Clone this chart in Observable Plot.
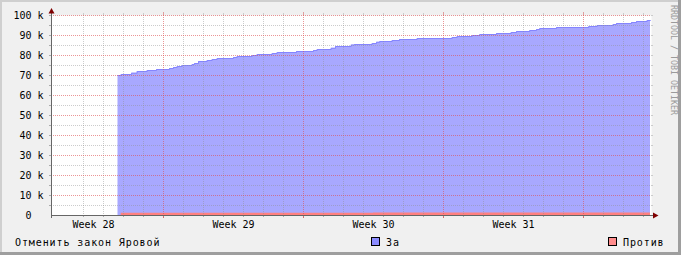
<!DOCTYPE html>
<html><head><meta charset="utf-8">
<script src="https://cdn.jsdelivr.net/npm/d3@7"></script>
<script src="https://cdn.jsdelivr.net/npm/@observablehq/plot@0.6"></script>
<style>body{margin:0;background:#f0f0f0}</style>
</head><body><div id="chart"></div>
<script>
const forTimes = [
"2016-07-15T17:24","2016-07-15T21:15","2016-07-16T09:36","2016-07-16T16:26","2016-07-17T04:26","2016-07-17T15:36",
"2016-07-18T07:12","2016-07-18T12:00","2016-07-18T16:26","2016-07-18T22:26","2016-07-19T10:26","2016-07-19T13:12","2016-07-19T18:00",
"2016-07-20T04:26","2016-07-20T10:26","2016-07-20T16:26","2016-07-21T12:00","2016-07-21T16:26","2016-07-22T10:26","2016-07-22T16:26",
"2016-07-23T10:26","2016-07-23T16:26","2016-07-24T15:36","2016-07-25T12:00","2016-07-25T16:26","2016-07-26T09:14","2016-07-26T14:24",
"2016-07-27T09:14","2016-07-27T13:12","2016-07-28T10:26","2016-07-28T15:36","2016-07-28T19:34","2016-07-29T10:26","2016-07-29T19:12",
"2016-07-30T16:26","2016-08-01T10:26","2016-08-01T16:26","2016-08-02T10:26","2016-08-02T19:34","2016-08-03T15:36","2016-08-04T09:14",
"2016-08-04T15:36","2016-08-05T07:34","2016-08-05T15:36","2016-08-05T19:34","2016-08-06T15:36","2016-08-08T06:22","2016-08-08T16:26",
"2016-08-09T11:38","2016-08-09T15:36","2016-08-10T09:36","2016-08-10T15:36","2016-08-11T04:26","2016-08-11T08:24"];
const forValues = [70000,70500,71150,72000,72500,73000,
73500,74000,74500,75000,75500,76000,77000,
77500,78000,78500,79000,79500,80000,80500,
81000,81500,82000,82500,83000,83600,84500,
85200,85500,86000,86600,87000,87500,88000,
88500,89000,89500,90000,90500,91000,91500,
92000,92500,93000,93500,94000,94500,95000,
95500,96000,96500,97000,97500,97500];
const againstTimes = ["2016-07-15T21:15","2016-07-28T12:00","2016-08-11T08:24"];
const againstValues = [1100,1200,1300];

const yTicks = [0,10000,20000,30000,40000,50000,60000,70000,80000,90000,100000];
const yLabels = ["0\u00a0\u00a0","10 k","20 k","30 k","40 k","50 k","60 k","70 k","80 k","90 k","100 k"];
const weekTicks = ["2016-07-14T12:00","2016-07-21T12:00","2016-07-28T12:00","2016-08-04T12:00"];
const weekLabels = ["Week 28","Week 29","Week 30","Week 31"];
const seriesNames = ["За","Против"];
const title = "Отменить закон Яровой";
const watermark = "RRDTOOL / TOBI OETIKER";

const utc = s => new Date(s + "Z");
const forData = forTimes.map((t,i)=>({t:utc(t), v:forValues[i]}));
const againstData = againstTimes.map((t,i)=>({t:utc(t), v:againstValues[i]}));
const x0 = utc("2016-07-12T09:36"), x1 = utc("2016-08-11T09:36");
const dayLines = d3.utcDay.range(x0, x1).slice(1).filter(d => d.getUTCDay() !== 1);
const weekLines = d3.utcMonday.range(x0, x1);
const minorY = d3.range(5000, 100000, 10000);
const majorY = d3.range(10000, 100001, 10000);
const FONT = "'DejaVu Sans Mono', monospace";
const gridMinor = {stroke:"#8f8f8f", strokeOpacity:0.46, strokeDasharray:"1,1"};
const gridMajor = {stroke:"#de5050", strokeOpacity:0.6, strokeDasharray:"1,1"};

const plot = Plot.plot({
  width: 681, height: 255,
  marginLeft: 51, marginRight: 30, marginTop: 15, marginBottom: 40,
  style: {background:"#f0f0f0", fontFamily: FONT, fontSize:"10px", color:"#000", overflow:"visible"},
  x: {type:"utc", domain:[x0, x1], axis:null},
  y: {domain:[0, 100000], axis:null},
  marks: [
    Plot.frame({fill:"#ffffff", stroke:null}),
    Plot.areaY(forData, {x:"t", y:"v", curve:"step-after", fill:"#a8a8ff"}),
    Plot.lineY(forData, {x:"t", y:"v", curve:"step-after", stroke:"#8585ff", strokeWidth:1}),
    Plot.areaY(againstData, {x:"t", y:"v", curve:"step-after", fill:"#ff8080"}),
    Plot.ruleX(dayLines, {...gridMinor}),
    Plot.ruleY(minorY, {...gridMinor}),
    Plot.ruleX(weekLines, {...gridMajor}),
    Plot.ruleY(majorY, {...gridMajor}),
    Plot.text(yTicks, {y: d=>d, text: (d,i)=>yLabels[i], frameAnchor:"left", textAnchor:"end", dx:-8, fontSize:10, fill:"#000"}),
    Plot.text(weekTicks, {x: d=>utc(d), text: (d,i)=>weekLabels[i], frameAnchor:"bottom", lineAnchor:"top", dy:5, fontSize:10, fill:"#000"})
  ]
});
document.getElementById("chart").append(plot);

const sx = plot.scale("x"), sy = plot.scale("y");
const svg = d3.select(plot);
const L = sx.apply(x0), R = sx.apply(x1), B = sy.apply(0), T = sy.apply(100000);
const g = svg.append("g");
// small ticks
dayLines.forEach(d => { const px = Math.round(sx.apply(d)) + 0.5;
  g.append("line").attr("x1",px).attr("x2",px).attr("y1",B).attr("y2",B+2).attr("stroke","#aaa");
  g.append("line").attr("x1",px).attr("x2",px).attr("y1",T-2).attr("y2",T).attr("stroke","#ccc"); });
weekLines.forEach(d => { const px = Math.round(sx.apply(d)) + 0.5;
  g.append("line").attr("x1",px).attr("x2",px).attr("y1",B).attr("y2",B+3).attr("stroke","#d07070");
  g.append("line").attr("x1",px).attr("x2",px).attr("y1",T-3).attr("y2",T).attr("stroke","#e0a0a0"); });
minorY.concat(majorY).forEach(v => { const py = Math.round(sy.apply(v)) + 0.5;
  g.append("line").attr("x1",L-2).attr("x2",L).attr("y1",py).attr("y2",py).attr("stroke","#aaa");
  g.append("line").attr("x1",R).attr("x2",R+2).attr("y1",py).attr("y2",py).attr("stroke","#ccc"); });
// axes
g.append("line").attr("x1",L).attr("x2",R+3).attr("y1",B+0.5).attr("y2",B+0.5).attr("stroke","#666");
g.append("line").attr("x1",L+0.5).attr("x2",L+0.5).attr("y1",B+3).attr("y2",T-2).attr("stroke","#666");
g.append("path").attr("d",`M${R+7.5},${B+0.5}L${R+2},${B-2.5}L${R+2},${B+3.5}Z`).attr("fill","#7f0000");
g.append("path").attr("d",`M${L+0.5},${T-7}L${L-2.5},${T-1.5}L${L+3.5},${T-1.5}Z`).attr("fill","#7f0000");
// legend
const lg = svg.append("g").attr("font-family", FONT).attr("font-size", 10).attr("letter-spacing", "0.9px")
  .attr("fill","#000").attr("text-anchor","start");
lg.append("text").attr("x",15).attr("y",245.5).text(title);
lg.append("rect").attr("x",371.5).attr("y",237.5).attr("width",8).attr("height",8).attr("fill","#8c8cff").attr("stroke","#000");
lg.append("text").attr("x",386).attr("y",245.5).text(seriesNames[0]);
lg.append("rect").attr("x",608.5).attr("y",237.5).attr("width",8).attr("height",8).attr("fill","#ff8c8c").attr("stroke","#000");
lg.append("text").attr("x",623).attr("y",245.5).text(seriesNames[1]);
// watermark
svg.append("text").attr("transform","translate(670.5,5) rotate(90)").attr("font-family",FONT).attr("font-size",8.3)
  .attr("text-anchor","start").attr("fill","#9a9a9a").text(watermark);
// border
svg.append("rect").attr("x",0).attr("y",0).attr("width",681).attr("height",2).attr("fill","#cfcfcf");
svg.append("rect").attr("x",0).attr("y",0).attr("width",2).attr("height",255).attr("fill","#cfcfcf");
svg.append("rect").attr("x",678).attr("y",0).attr("width",3).attr("height",255).attr("fill","#9e9e9e");
svg.append("rect").attr("x",0).attr("y",252).attr("width",681).attr("height",3).attr("fill","#9e9e9e");
</script></body></html>
